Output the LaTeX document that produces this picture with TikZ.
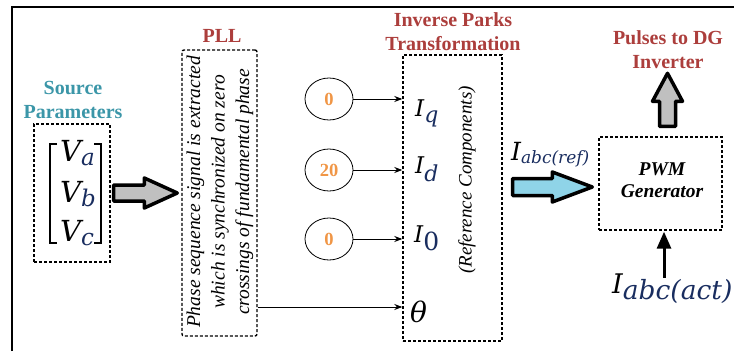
\RequirePackage{fix-cm}
\documentclass[tikz,border=0pt]{standalone}
\usepackage{fontspec}
\setmainfont{Liberation Serif}
\newfontfamily\mf{DejaVu Serif}
\usetikzlibrary{arrows.meta,calc,shapes.geometric}
\definecolor{tealc}{RGB}{59,150,168}
\definecolor{brick}{RGB}{172,62,60}
\definecolor{orng}{RGB}{240,150,70}
\definecolor{skyb}{RGB}{143,212,232}
\definecolor{grayf}{RGB}{192,192,192}
\definecolor{subc}{RGB}{25,45,95}
% main symbol, main size, sub size, drop, sub text
\newcommand\isub[5]{{\fontsize{#2}{#2}\selectfont\mf\itshape #1}\raisebox{-#4pt}{\fontsize{#3}{#3}\selectfont\mf\itshape\color{subc}#5}}
\newcommand\hfat[5]{% start, tip, fill, headlen, shafthalf
  \draw[fat,fill=#3] ($(#1)+(0,-#5)$) -- ($(#2)+(-#4,-#5)$) -- ($(#2)+(-#4,-15)$) -- (#2)
    -- ($(#2)+(-#4,15)$) -- ($(#2)+(-#4,#5)$) -- ($(#1)+(0,#5)$) -- cycle;}
\begin{document}
\begin{tikzpicture}[x=1pt,y=-1pt,
  dbox/.style={draw, dash pattern=on 3pt off 2pt, line width=1.4pt, inner sep=0pt},
  lbl/.style={font=\fontsize{20}{23.5}\selectfont\bfseries, align=center, inner sep=0pt},
  circ/.style={draw, ellipse, line width=0.8pt, minimum width=48pt, minimum height=42pt,
     inner sep=0pt, text=orng, font=\fontsize{18.5}{18.5}\selectfont\bfseries},
  arr/.style={line width=0.9pt, -{Stealth[length=8pt,width=6pt]}},
  fat/.style={line width=3.5pt, line join=round},
  sym/.style={inner sep=0pt, anchor=base west},
  rot/.style={rotate=90, align=center, inner sep=0pt}]
\useasboundingbox (0,0) rectangle (734,351);
% frame
\draw[line width=2pt] (12,351) -- (12,6.5) -- (734,6.5);
% source
\node[lbl, text=tealc] (srcl) at (73,100) {Source\\Parameters};
\node[dbox, minimum width=76pt, minimum height=138pt] (src) at (72,193) {};
\node[sym] (va) at (60,161) {\isub{V}{29}{23}{4}{a}};
\node[sym] (vb) at (60,202) {\isub{V}{29}{23}{4}{b}};
\node[sym] (vc) at (60,241) {\isub{V}{29}{23}{4}{c}};
\draw[line width=2.2pt] (57,144) -- (50,144) -- (50,243) -- (57,243);
\draw[line width=2.2pt] (94,144) -- (101,144) -- (101,243) -- (94,243);
% PLL
\node[lbl, text=brick] (plll) at (222,36) {PLL};
\node[dbox, rounded corners=2pt, minimum width=75pt, minimum height=286pt] (pll) at (219.5,193) {};
\node[rot, font=\fontsize{19.5}{24.5}\selectfont\itshape] (plltxt) at (220,192)
  {Phase sequence signal is extracted\\which is synchronized on zero\\crossings of fundamental phase};
% fat arrow source -> PLL
\coordinate (g0) at ($(src.east)+(3,0)$);
\coordinate (g1) at ($(pll.west |- src.east)+(-4,0)$);
\hfat{g0}{g1}{grayf}{33}{8}
% Inverse Parks
\node[lbl, text=brick] (iptl) at (453,31.5) {Inverse Parks\\Transformation};
\node[dbox, minimum width=99pt, minimum height=286pt] (ipt) at (452.5,198) {};
\node[circ] (c1) at (329,99) {0};
\node[circ] (c2) at (329,170) {20};
\node[circ] (c3) at (329,239) {0};
\coordinate (th) at (ipt.west |- 0,307);
\draw[arr] (c1) -- (c1 -| ipt.west);
\draw[arr] (c2) -- (c2 -| ipt.west);
\draw[arr] (c3) -- (c3 -| ipt.west);
\draw[arr] (pll.east |- th) -- (th);
\node[sym] (iq) at (415,116) {\isub{I}{23}{22}{6}{q}};
\node[sym] (id) at (415,173) {\isub{I}{23}{22}{8}{d}};
\node[sym] (i0) at (414,242) {\isub{I}{23}{25}{8}{\upshape 0}};
\node[sym, font=\fontsize{28}{28}\selectfont\mf\itshape] (ith) at (410,322) {θ};
\node[rot, font=\fontsize{19}{23}\selectfont\itshape] (refc) at (467,180) {(Reference Components)};
% PWM
\node[dbox, minimum width=123pt, minimum height=93pt] (pwm) at (660.5,183.5) {};
\node[font=\fontsize{19.5}{22.5}\selectfont\bfseries\itshape, align=center, inner sep=0pt] (pwmt) at (662,180) {PWM\\Generator};
\node[sym] (iref) at (511,160) {\isub{I}{25}{17}{3}{abc(ref)}};
\coordinate (b0) at ($(ipt.east |- pwm.west)+(10,3.5)$);
\coordinate (b1) at ($(pwm.west)+(-6,3.5)$);
\hfat{b0}{b1}{skyb}{40}{8.5}
% pulses
\node[lbl, text=brick] (pul) at (668,49.5) {Pulses to DG\\Inverter};
\coordinate (u0) at ($(pwm.north)+(7,-10)$);
\coordinate (u1) at ($(pwm.north)+(7,-63)$);
\draw[fat,fill=grayf] ($(u0)+(-8,0)$) -- ($(u1)+(-8,28)$) -- ($(u1)+(-15,28)$) -- (u1)
   -- ($(u1)+(15,28)$) -- ($(u1)+(8,28)$) -- ($(u0)+(8,0)$) -- cycle;
% actual current
\node[sym] (iact) at (612,293) {\isub{I}{27}{26.5}{6}{abc(act)}};
\coordinate (a1) at ($(pwm.south)+(3.5,1)$);
\coordinate (a0) at ($(pwm.south)+(3.5,47)$);
\draw[line width=3pt, -{Triangle[length=17pt,width=14pt]}] (a0) -- (a1);
\end{tikzpicture}
\end{document}
